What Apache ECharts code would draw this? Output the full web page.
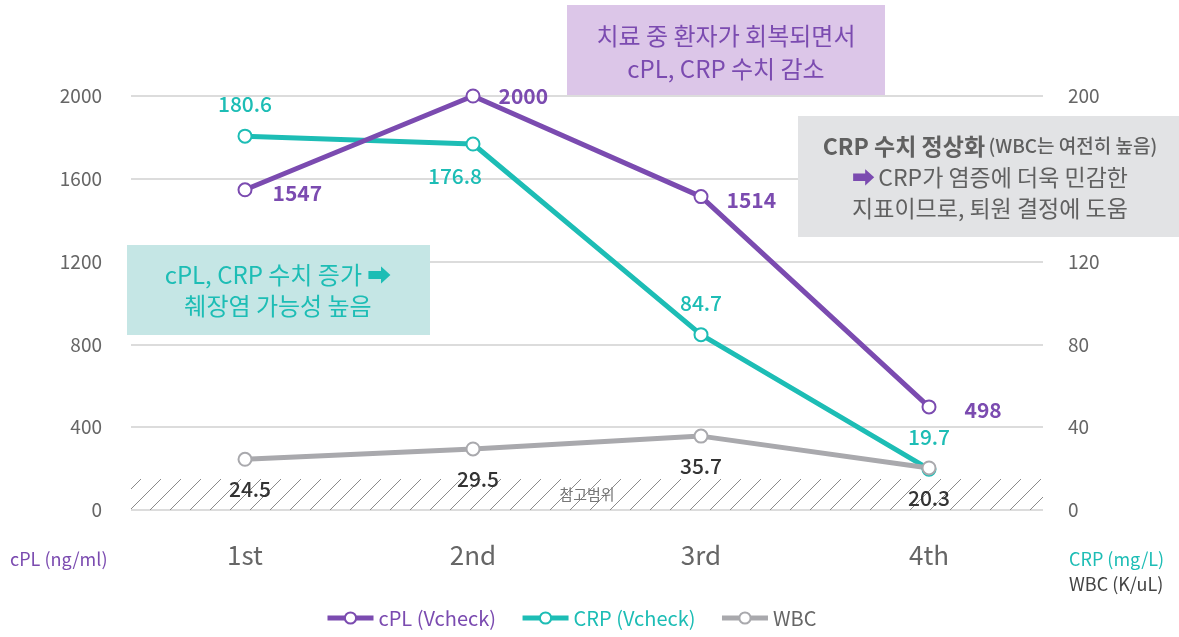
<!DOCTYPE html>
<html><head><meta charset="utf-8">
<script src="https://cdn.jsdelivr.net/npm/echarts@6/dist/echarts.min.js"></script>
<style>html,body{margin:0;padding:0;background:#fff}#c{width:1179px;height:637px}</style>
</head><body><div id="c"></div>
<script>
const categories = ['1st', '2nd', '3rd', '4th'];
const cplValues = [1547, 2000, 1514, 498];
const crpValues = [180.6, 176.8, 84.7, 19.7];
const wbcValues = [24.5, 29.5, 35.7, 20.3];
const refRange = [0, 15];
const seriesNames = ['cPL (Vcheck)', 'CRP (Vcheck)', 'WBC'];

const PURPLE = '#7b4bb0', TEAL = '#1dbdb5', GREY = '#a9a9ad';
const FONT = '"Noto Sans CJK KR", "Noto Sans", sans-serif';

// hatch pattern
const pc = document.createElement('canvas');
pc.width = 20; pc.height = 20;
const g = pc.getContext('2d');
g.strokeStyle = '#8a8a8a'; g.lineWidth = 1;
g.beginPath();
g.moveTo(0, 20); g.lineTo(20, 0);
g.moveTo(-10, 10); g.lineTo(10, -10);
g.moveTo(10, 30); g.lineTo(30, 10);
g.stroke();

const cplLabelOff = [[6, 3], [4, 0], [4, 3], [14, 3]];
const crpLabelCfg = [
  {position: 'top', distance: 14, offset: [0, 0]},
  {position: 'bottom', distance: 14, offset: [-18, 0]},
  {position: 'top', distance: 14, offset: [0, 0]},
  {position: 'top', distance: 14, offset: [0, 0]}
];
const wbcLabelOff = [[5, 0], [5, 0], [0, 0], [0, 0]];

const chart = echarts.init(document.getElementById('c'));
chart.setOption({
  animation: false,
  textStyle: {fontFamily: FONT},
  grid: {left: 131, right: 136, top: 96, bottom: 127},
  legend: {
    bottom: 4, left: 320, itemWidth: 46, itemHeight: 14, itemGap: 24,
    lineStyle: {width: 5}, itemStyle: {borderWidth: 3},
    textStyle: {fontSize: 20, fontFamily: FONT},
    data: [
      {name: seriesNames[0], textStyle: {color: PURPLE}},
      {name: seriesNames[1], textStyle: {color: TEAL}},
      {name: seriesNames[2], textStyle: {color: '#666'}}
    ]
  },
  xAxis: {
    type: 'category', data: categories, boundaryGap: true,
    axisLine: {show: false}, axisTick: {show: false},
    axisLabel: {color: '#666', fontSize: 26, margin: 32, fontFamily: FONT}
  },
  yAxis: [
    {type: 'value', min: 0, max: 2000, interval: 400,
     axisLine: {show: false}, axisTick: {show: false},
     axisLabel: {color: '#666', fontSize: 19, margin: 29, formatter: v => String(v)},
     splitLine: {lineStyle: {color: '#dcdcdc', width: 2}}},
    {type: 'value', min: 0, max: 200, interval: 40,
     axisLine: {show: false}, axisTick: {show: false},
     axisLabel: {color: '#666', fontSize: 19, margin: 25, formatter: v => String(v)},
     splitLine: {show: false}}
  ],
  series: [
    {
      name: seriesNames[1], type: 'line', yAxisIndex: 1,
      data: crpValues.map((v, i) => ({value: v, label: crpLabelCfg[i]})),
      symbol: 'emptyCircle', symbolSize: 13,
      lineStyle: {color: TEAL, width: 5}, itemStyle: {color: TEAL, borderWidth: 3},
      label: {show: true, color: TEAL, fontSize: 21, fontWeight: 500, fontFamily: FONT}
    },
    {
      name: seriesNames[0], type: 'line', yAxisIndex: 0,
      data: cplValues.map((v, i) => ({value: v, label: {offset: cplLabelOff[i]}})),
      symbol: 'emptyCircle', symbolSize: 13,
      lineStyle: {color: PURPLE, width: 5}, itemStyle: {color: PURPLE, borderWidth: 3},
      label: {show: true, position: 'right', distance: 14, color: PURPLE, fontSize: 21, fontWeight: 'bold', fontFamily: FONT}
    },
    {
      name: seriesNames[2], type: 'line', yAxisIndex: 1,
      data: wbcValues.map((v, i) => ({value: v, label: {offset: wbcLabelOff[i]}})),
      symbol: 'emptyCircle', symbolSize: 13,
      lineStyle: {color: GREY, width: 5}, itemStyle: {color: GREY, borderWidth: 3},
      label: {show: true, position: 'bottom', distance: 12, color: '#333', fontSize: 21, fontWeight: 500, fontFamily: FONT},
      markArea: {
        silent: true,
        itemStyle: {color: {image: pc, repeat: 'repeat'}},
        label: {show: true, position: 'inside', color: '#777', fontSize: 15, fontFamily: FONT},
        data: [[{name: '참고범위', yAxis: refRange[0]}, {yAxis: refRange[1]}]]
      }
    }
  ],
  graphic: [
    {type: 'text', left: 10, top: 550, style: {text: 'cPL (ng/ml)', fill: PURPLE, font: '18px ' + FONT}},
    {type: 'text', left: 1069, top: 550, style: {text: 'CRP (mg/L)', fill: TEAL, font: '18px ' + FONT}},
    {type: 'text', left: 1069, top: 575, style: {text: 'WBC (K/uL)', fill: '#444', font: '18px ' + FONT}},
    {type: 'group', left: 567, top: 5, z: 100, children: [
      {type: 'rect', z: 100, shape: {x: 0, y: 0, width: 318, height: 90}, style: {fill: '#dcc6e8'}},
      {type: 'text', z: 101, x: 159, y: 47, style: {text: '치료 중 환자가 회복되면서\ncPL, CRP 수치 감소', fill: PURPLE, font: '24px ' + FONT, align: 'center', verticalAlign: 'middle', lineHeight: 33}}
    ]},
    {type: 'group', left: 127, top: 245, z: 100, children: [
      {type: 'rect', z: 100, shape: {x: 0, y: 0, width: 303, height: 90}, style: {fill: '#c5e6e5'}},
      {type: 'text', z: 101, x: 151, y: 45, style: {text: 'cPL, CRP 수치 증가 ➡\n췌장염 가능성 높음', fill: TEAL, font: '24px ' + FONT, align: 'center', verticalAlign: 'middle', lineHeight: 31}}
    ]},
    {type: 'group', left: 798, top: 116, z: 100, children: [
      {type: 'rect', z: 100, shape: {x: 0, y: 0, width: 381, height: 121}, style: {fill: '#e2e3e5'}},
      {type: 'text', z: 101, x: 192, y: 61, style: {
        text: '{b|CRP 수치 정상화} {s|(WBC는 여전히 높음)}\n{p|➡} {n|CRP가 염증에 더욱 민감한}\n{n|지표이므로, 퇴원 결정에 도움}',
        align: 'center', verticalAlign: 'middle',
        rich: {
          b: {fontSize: 23, fontWeight: 'bold', fill: '#606060', fontFamily: FONT, lineHeight: 31},
          s: {fontSize: 19, fontWeight: 500, fill: '#606060', fontFamily: FONT, lineHeight: 31},
          p: {fontSize: 23, fill: PURPLE, fontFamily: FONT, lineHeight: 31},
          n: {fontSize: 23, fill: '#606060', fontFamily: FONT, lineHeight: 31}
        }
      }}
    ]}
  ]
});
</script></body></html>
